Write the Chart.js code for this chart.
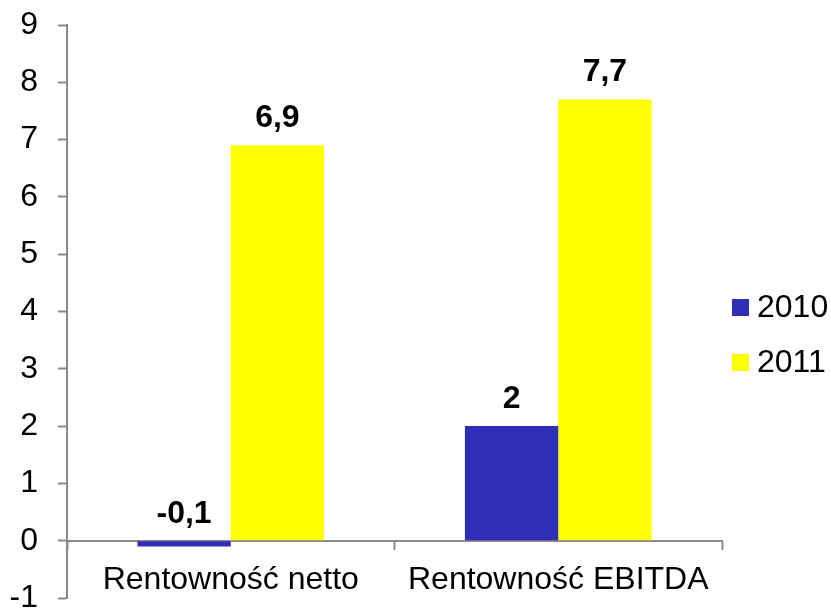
<!DOCTYPE html>
<html>
<head>
<meta charset="utf-8">
<script src="https://cdn.jsdelivr.net/npm/chart.js@4"></script>
<style>
  html, body { margin: 0; padding: 0; background: #fff; }
  #wrap { width: 831px; height: 609px; }
</style>
</head>
<body>
<div id="wrap"><canvas id="chart" width="831" height="609"></canvas></div>
<script>
"use strict";

// Chart data
const categories = ["Rentowność netto", "Rentowność EBITDA"];
const years = ["2010", "2011"];
const values2010 = [-0.1, 2];
const values2011 = [6.9, 7.7];
const yTicks = [-1, 0, 1, 2, 3, 4, 5, 6, 7, 8, 9];

const colors = ["#2E2EB8", "#FFFF00"];
const axisColor = "#898989";
const fontFamily = "'Liberation Sans', Arial, sans-serif";
const fontSize = 32;

// Bold value labels above each bar (decimal comma, as in the original)
const valueLabels = {
    id: "valueLabels",
    afterDatasetsDraw(chart) {
        const c = chart.ctx;
        c.save();
        c.font = "bold " + fontSize + "px " + fontFamily;
        c.fillStyle = "#000";
        c.textAlign = "center";
        c.textBaseline = "bottom";
        chart.data.datasets.forEach((ds, i) => {
            chart.getDatasetMeta(i).data.forEach((bar, j) => {
                const top = Math.min(bar.y, bar.base);
                c.fillText(String(ds.data[j]).replace(".", ","), bar.x, top - 11);
            });
        });
        c.restore();
    }
};

// Simple legend to the right of the plot area
const sideLegend = {
    id: "sideLegend",
    afterDraw(chart) {
        const c = chart.ctx;
        const area = chart.chartArea;
        const x = area.right + 10;
        const rows = [307, 362];
        c.save();
        c.font = fontSize + "px " + fontFamily;
        c.textBaseline = "middle";
        c.textAlign = "left";
        chart.data.datasets.forEach((ds, i) => {
            const cy = rows[i];
            c.fillStyle = ds.backgroundColor;
            c.fillRect(x, cy - 8, 17, 17);
            c.fillStyle = "#000";
            c.fillText(ds.label, x + 25, cy + 1);
        });
        c.restore();
    }
};

const chart = new Chart(document.getElementById("chart").getContext("2d"), {
    type: "bar",
    data: {
        labels: categories,
        datasets: [
            { label: years[0], data: values2010, backgroundColor: colors[0] },
            { label: years[1], data: values2011, backgroundColor: colors[1] }
        ]
    },
    options: {
        responsive: false,
        animation: false,
        layout: { padding: { left: 0, right: 109, top: 25, bottom: 11 } },
        datasets: {
            bar: { categoryPercentage: 0.57, barPercentage: 1.0, borderWidth: 0 }
        },
        plugins: {
            legend: { display: false },
            tooltip: { enabled: false }
        },
        scales: {
            x: {
                position: { y: 0 },
                offset: true,
                afterFit: (scale) => { scale.height = 0; },
                grid: {
                    offset: true,
                    drawOnChartArea: false,
                    drawTicks: true,
                    tickLength: 8,
                    tickColor: axisColor,
                    tickWidth: 2
                },
                border: { color: axisColor, width: 2 },
                ticks: {
                    color: "#000",
                    padding: 12,
                    font: { family: fontFamily, size: fontSize }
                }
            },
            y: {
                min: -1,
                max: 9,
                afterFit: (scale) => {
                    scale.width = 67;
                    scale.paddingTop = 0;
                    scale.paddingBottom = 0;
                },
                afterBuildTicks: (scale) => {
                    scale.ticks = yTicks.map(v => ({ value: v }));
                },
                grid: {
                    drawOnChartArea: false,
                    drawTicks: true,
                    tickLength: 9,
                    tickColor: axisColor,
                    tickWidth: 2
                },
                border: { color: axisColor, width: 2 },
                ticks: {
                    color: "#000",
                    padding: 20,
                    font: { family: fontFamily, size: fontSize }
                }
            }
        }
    },
    plugins: [valueLabels, sideLegend]
});
</script>
</body>
</html>
